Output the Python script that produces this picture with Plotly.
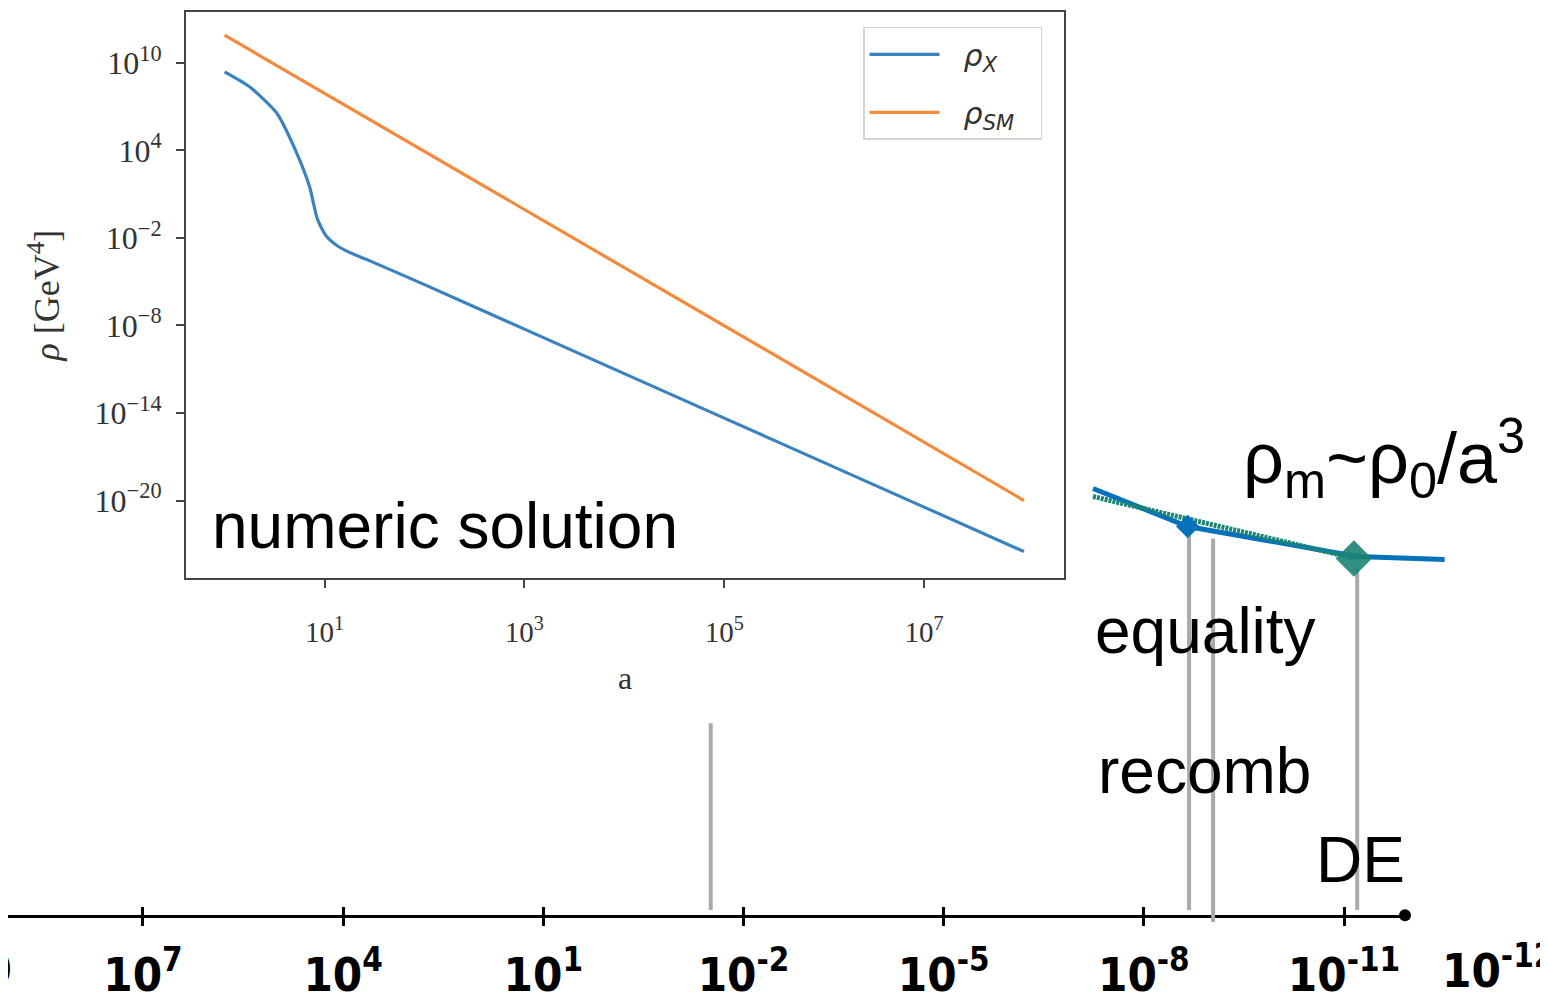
import plotly.graph_objects as go

# ---------------- inset: numeric solution (log10 values) ----------------
a_sm_exp = [0.0, 2.0, 4.0, 6.0, 8.0]
rho_sm_exp = [11.9, 3.95, -4.0, -12.0, -20.0]

a_x_exp = [0.0, 0.25, 0.52, 0.72, 0.85, 0.93, 1.02, 1.12, 1.25, 1.42, 2.0, 3.0, 4.0, 5.0, 6.0, 7.0, 8.0]
rho_x_exp = [9.38, 8.36, 6.58, 3.85, 1.52, -0.73, -1.89, -2.5, -2.99, -3.47, -5.2, -8.25, -11.3, -14.35, -17.4, -20.45, -23.5]

inset_xticks = [1e1, 1e3, 1e5, 1e7]
inset_xticktext = ["10<sup>1</sup>", "10<sup>3</sup>", "10<sup>5</sup>", "10<sup>7</sup>"]
inset_yticks = [1e10, 1e4, 1e-2, 1e-8, 1e-14, 1e-20]
inset_yticktext = ["10<sup>10</sup>", "10<sup>4</sup>", "10<sup>−2</sup>", "10<sup>−8</sup>",
                   "10<sup>−14</sup>", "10<sup>−20</sup>"]

# ---------------- timeline (log10 of the quantity on the bottom axis) ----------------
tl_exps = [7, 4, 1, -2, -5, -8, -11]
tl_labels = ["10<sup>7</sup>", "10<sup>4</sup>", "10<sup>1</sup>", "10<sup>-2</sup>",
             "10<sup>-5</sup>", "10<sup>-8</sup>", "10<sup>-11</sup>"]
tl_start = 9.023
tl_end = -11.914
tl_right = -14.06

# schematic density curves (arbitrary vertical units)
blue_x = [-7.24, -8.66, -11.195, -12.51]
blue_y = [51.1, 47.3, 44.3, 44.0]
teal_x = [-7.24, -11.17]
teal_y = [50.3, 44.1]
eq_pt = (-8.66, 47.3)
de_pt = (-11.15, 44.1)

# event markers (vertical gray lines)
event_x = [-1.51, -8.68, -9.04, -11.2]
event_top = [27.6, 47.1, 46.1, 43.1]
event_bottom = [8.9, 8.9, 7.7, 8.9]

# page offset of the figure (browser body margin)
OFF = 8
W, H = 1548 - OFF, 1002 - OFF
def px(v): return (v - OFF) / W
def py(v): return 1 - (v - OFF) / H

fig = go.Figure()

fig.add_trace(go.Scatter(x=[10 ** e for e in a_x_exp], y=[10 ** e for e in rho_x_exp],
                         mode="lines", line=dict(color="#3b82c0", width=3.2, shape="spline", smoothing=0.6),
                         name="\u00a0\u00a0<i>ρ<sub>X</sub></i>\u00a0\u00a0\u00a0\u00a0",
                         legendgroup="g1", xaxis="x", yaxis="y"))
fig.add_trace(go.Scatter(x=[10 ** e for e in a_sm_exp], y=[10 ** e for e in rho_sm_exp],
                         mode="lines", line=dict(color="#f58a3c", width=3.2),
                         name="\u00a0\u00a0<i>ρ<sub>SM</sub></i>\u00a0\u00a0",
                         legendgroup="g2", xaxis="x", yaxis="y"))

# gray event lines
gx, gy = [], []
for x, t, b in zip(event_x, event_top, event_bottom):
    gx += [x, x, None]
    gy += [t, b, None]
fig.add_trace(go.Scatter(x=gx, y=gy, mode="lines", line=dict(color="#aaaaaa", width=4),
                         showlegend=False, xaxis="x3", yaxis="y3"))

fig.add_trace(go.Scatter(x=blue_x, y=blue_y, mode="lines", line=dict(color="#0672bb", width=5),
                         showlegend=False, xaxis="x3", yaxis="y3"))
fig.add_trace(go.Scatter(x=teal_x, y=teal_y, mode="lines",
                         line=dict(color="#1b8474", width=5, dash="3px,1px"),
                         showlegend=False, xaxis="x3", yaxis="y3"))
fig.add_trace(go.Scatter(x=[eq_pt[0]], y=[eq_pt[1]], mode="markers",
                         marker=dict(symbol="diamond", size=18, color="#0672bb"),
                         showlegend=False, xaxis="x3", yaxis="y3"))
fig.add_trace(go.Scatter(x=[de_pt[0]], y=[de_pt[1]], mode="markers",
                         marker=dict(symbol="diamond", size=28, color="#1b8474", opacity=0.9),
                         showlegend=False, xaxis="x3", yaxis="y3"))

# timeline end dot
fig.add_trace(go.Scatter(x=[tl_end], y=[0], mode="markers", marker=dict(size=12, color="black"),
                         cliponaxis=False, showlegend=False, xaxis="x2", yaxis="y2"))
fig.add_trace(go.Scatter(x=[], y=[], showlegend=False, xaxis="x4", yaxis="y2"))

serif = "Liberation Serif, Times New Roman, serif"
sans = "Liberation Sans, Arial, Helvetica, sans-serif"
narrow = "Liberation Sans Narrow, DejaVu Sans Condensed, Arial Narrow, sans-serif"

fig.update_layout(
    width=W, height=H, margin=dict(l=0, r=0, t=0, b=0),
    paper_bgcolor="white", plot_bgcolor="rgba(0,0,0,0)",
    xaxis=dict(domain=[px(186), px(1064)], type="log", range=[-0.386, 8.40], anchor="y",
               showgrid=False, zeroline=False, showline=True, mirror=True,
               linecolor="#444", linewidth=2, ticks="outside", ticklen=8, tickwidth=1.5,
               tickcolor="#444", tickvals=inset_xticks, ticktext=inset_xticktext,
               ticklabelstandoff=19,
               tickfont=dict(family=serif, size=29, color="#333"),
               title=dict(text="a", font=dict(family=serif, size=32, color="#333"), standoff=20)),
    yaxis=dict(domain=[py(580), py(12)], type="log", range=[-25.33, 13.49], anchor="x",
               showgrid=False, zeroline=False, showline=True, mirror=True,
               linecolor="#444", linewidth=2, ticks="outside", ticklen=8, tickwidth=1.5,
               tickcolor="#444", tickvals=inset_yticks, ticktext=inset_yticktext,
               ticklabelstandoff=8,
               tickfont=dict(family=serif, size=32, color="#333"),
               title=dict(text="<i>ρ</i> [GeV<sup>4</sup>]", font=dict(family=serif, size=36, color="#333"),
                          standoff=24)),
    xaxis2=dict(domain=[0, px(1405)], range=[tl_start, tl_end], anchor="y2",
                showgrid=False, zeroline=False, showline=True, linecolor="black", linewidth=3,
                ticks="outside", ticklen=8, tickwidth=3, tickcolor="black",
                tickvals=tl_exps, ticktext=tl_labels, ticklabelstandoff=8,
                tickfont=dict(family=narrow, size=47, color="black", weight="bold")),
    yaxis2=dict(domain=[py(918), 1], range=[0, 1], visible=False, anchor="x2"),
    xaxis4=dict(overlaying="x2", anchor="y2", range=[tl_start, tl_end], showgrid=False, zeroline=False,
                showline=False, ticks="inside", ticklen=8, tickwidth=3, tickcolor="black",
                tickvals=tl_exps, showticklabels=False),
    xaxis3=dict(domain=[0, 1], range=[tl_start, tl_right], visible=False, anchor="y3"),
    yaxis3=dict(domain=[0, 1], range=[0, 100 * (1 - OFF / 1002)], visible=False, anchor="x3"),
    legend=dict(x=px(863), y=py(27), xanchor="left", yanchor="top", bgcolor="white",
                bordercolor="#d4d4d4", borderwidth=1.5, itemwidth=70, tracegroupgap=16,
                font=dict(family="DejaVu Sans, sans-serif", size=30, color="#333")),
)

def note(text, x, y, size=64, anchor="left"):
    fig.add_annotation(text=text, x=px(x), y=py(y), xref="paper", yref="paper",
                       xanchor=anchor, yanchor="middle", showarrow=False,
                       font=dict(family=sans, size=size, color="black"))

note("numeric solution", 210, 528)
note("equality", 1093, 633)
note("recomb", 1096, 773)
note("DE", 1314, 863)
note("ρ<sub>m</sub>~ρ<sub>0</sub>/a<sup>3</sup>", 1241, 459, size=72)

fig.add_annotation(text="10<sup>-12</sup>", x=px(1440), y=py(970), xref="paper", yref="paper",
                   xanchor="left", yanchor="middle", showarrow=False,
                   font=dict(family=narrow, size=47, color="black", weight="bold"))
fig.add_annotation(text="10", x=px(14), y=py(972), xref="paper", yref="paper",
                   xanchor="right", yanchor="middle", showarrow=False,
                   font=dict(family=narrow, size=47, color="black", weight="bold"))

fig.write_html("out.html")
